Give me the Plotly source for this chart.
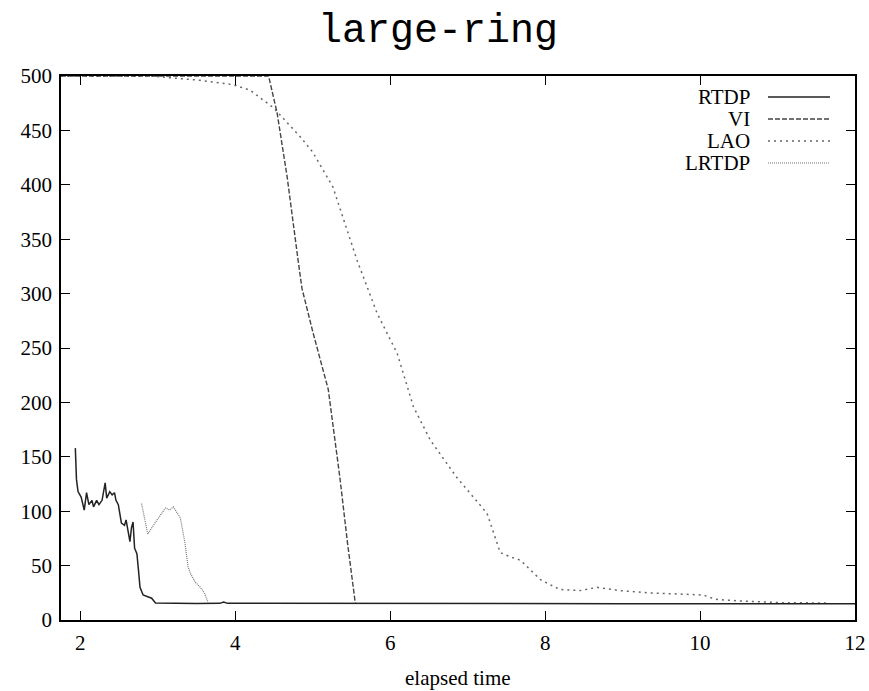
import plotly.graph_objects as go

# ---- data ----
rtdp_x = [1.935, 1.95, 1.97, 2.01, 2.05, 2.08, 2.11, 2.15, 2.17, 2.21, 2.24, 2.28, 2.32, 2.34,
          2.38, 2.41, 2.44, 2.46, 2.49, 2.53, 2.57, 2.59, 2.62, 2.64, 2.66, 2.68, 2.70, 2.73,
          2.75, 2.77, 2.81, 2.88, 2.92, 2.97, 3.2, 3.5, 3.8, 3.85, 3.9, 4.5, 5, 6, 7, 8, 9,
          10, 11, 12]
rtdp_y = [158, 129, 118, 113, 101, 117, 106, 110, 104, 110, 106, 110, 126, 112,
          118, 115, 117, 110, 106, 89, 87, 92, 80, 72, 85, 90, 66, 61,
          46, 30, 23, 21, 20, 15.6, 15.3, 15.2, 15.3, 16.5, 15.3, 15.2, 15, 15, 15, 15, 15,
          15, 15, 15]

vi_x = [1.75, 2.5, 3.0, 3.5, 4.0, 4.43, 4.54, 4.67, 4.81, 4.86, 5.0, 5.2, 5.35, 5.45, 5.55]
vi_y = [500, 500, 500, 500, 500, 500, 466, 407, 331, 305, 265, 212, 131, 70, 15]

lao_x = [1.75, 2.9, 3.55, 3.97, 4.19, 4.41, 4.49, 4.84, 5.0, 5.26, 5.57, 5.83, 6.09, 6.30,
         6.52, 6.86, 7.16, 7.25, 7.42, 7.55, 7.68, 7.94, 8.19, 8.45, 8.67, 8.97, 9.32, 9.74,
         10.04, 10.2, 10.5, 11.0, 11.64]
lao_y = [500, 500, 496, 492, 487, 475, 471, 444, 430, 398, 331, 282, 245, 196,
         165, 131, 106, 98, 62, 58, 55, 37, 28, 27, 30, 27, 25, 24,
         23, 19, 17.5, 16, 15.6]

lrtdp_x = [2.79, 2.87, 2.97, 3.05, 3.1, 3.15, 3.2, 3.29, 3.35, 3.39, 3.42, 3.48, 3.55, 3.6, 3.65]
lrtdp_y = [107, 79, 90, 98, 103, 101, 104, 94, 71, 49, 43, 35, 30, 25, 16]

series_names = ["RTDP", "VI", "LAO", "LRTDP"]
x_ticks = [2, 4, 6, 8, 10, 12]
y_ticks = [0, 50, 100, 150, 200, 250, 300, 350, 400, 450, 500]

# ---- styles ----
styles = {
    "RTDP": dict(color="#222222", width=1.5, dash="solid"),
    "VI": dict(color="#444444", width=1.4, dash="5px,2px"),
    "LAO": dict(color="#666666", width=1.5, dash="2px,4px"),
    "LRTDP": dict(color="#777777", width=1.2, dash="1px,1px"),
}

data = {
    "RTDP": (rtdp_x, rtdp_y),
    "VI": (vi_x, vi_y),
    "LAO": (lao_x, lao_y),
    "LRTDP": (lrtdp_x, lrtdp_y),
}

fig = go.Figure()
for name in ["LAO", "VI", "LRTDP", "RTDP"]:
    xs, ys = data[name]
    fig.add_trace(go.Scatter(x=xs, y=ys, mode="lines", name=name,
                             line=styles[name], showlegend=False))

serif = "Liberation Serif, Times New Roman, serif"

W, H = 869, 691
ML, MR, MT, MB = 61, 14, 76, 71
PW, PH = W - ML - MR, H - MT - MB


def px_to_paper_y(py):
    return 1 - (py - MT) / PH


# custom gnuplot-style key (text right-aligned, sample line after)
row_px = [97, 119, 141, 163]
for name, py in zip(series_names, row_px):
    ry = px_to_paper_y(py)
    fig.add_annotation(x=(752 - ML) / PW, y=ry, xref="paper", yref="paper", text=name,
                       showarrow=False, xanchor="right", yanchor="middle",
                       font=dict(family=serif, size=21, color="black"))
    fig.add_shape(type="line", xref="paper", yref="paper",
                  x0=(768 - ML) / PW, x1=(830 - ML) / PW,
                  y0=ry, y1=ry, line=styles[name])

# x-axis title
fig.add_annotation(x=0.5, y=px_to_paper_y(678), xref="paper", yref="paper",
                   text="elapsed time", showarrow=False, xanchor="center", yanchor="middle",
                   font=dict(family=serif, size=21, color="black"))

axis_common = dict(showgrid=False, zeroline=False, showline=True, linecolor="black",
                   linewidth=1.5, mirror="ticks", ticks="inside", ticklen=9,
                   tickcolor="black", tickwidth=1.3, automargin=False,
                   tickfont=dict(family=serif, size=21, color="black"))

fig.update_layout(
    width=W, height=H,
    margin=dict(l=ML, r=MR, t=MT, b=MB),
    paper_bgcolor="white", plot_bgcolor="white",
    title=dict(text="large-ring", x=438 / W, xref="container", xanchor="center",
               y=1 - 28 / H, yref="container", yanchor="middle",
               font=dict(family="Liberation Mono, Courier New, monospace", size=40, color="black")),
    xaxis=dict(range=[1.75, 12], tickvals=x_ticks, ticklabelstandoff=3, **axis_common),
    yaxis=dict(range=[0, 500], tickvals=y_ticks, ticklabelstandoff=3, **axis_common),
)

fig.write_html("out.html",
               config={"displayModeBar": False},
               post_script="document.body.style.margin='0';"
                           "document.body.style.overflow='hidden';"
                           "document.documentElement.style.overflow='hidden';")
